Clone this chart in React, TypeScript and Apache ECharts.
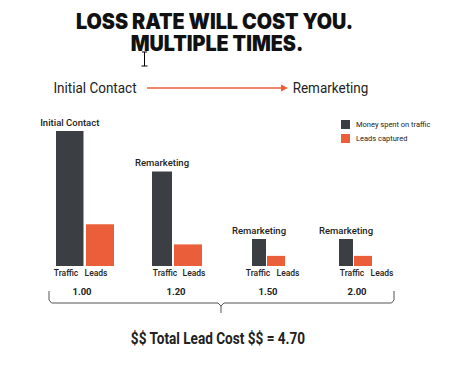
import React, { useEffect, useRef } from "react";
import * as echarts from "echarts";

// ---- data ----
const groupNames = ["Initial Contact", "Remarketing", "Remarketing", "Remarketing"];
const barKinds = ["Traffic", "Leads"];
const trafficSpend = [100, 70, 20, 20];
const leadsCaptured = [31, 16, 7.5, 7.5];
const leadCost = ["1.00", "1.20", "1.50", "2.00"];
const totalCost = "4.70";
const seriesNames = ["Money spent on traffic", "Leads captured"];
const titleLines = ["LOSS RATE WILL COST YOU.", "MULTIPLE TIMES."];
const flowLabels = ["Initial Contact", "Remarketing"];

// ---- layout / style ----
const DARK = "#3b3e43";
const ORANGE = "#ea5f3a";
const TEXT = "#222";
const PLOT_TOP = 131;
const PLOT_H = 135;
// [left, width] of each bar: traffic, leads per group
const BAR_LAYOUT = [
  [56, 27.5], [86, 28],
  [152, 20], [174, 28],
  [252, 14], [267, 18],
  [339, 14], [354, 18],
];
const KIND_LABEL_X = [66, 96, 165, 194, 258, 288, 352, 382];
const COST_X = [82, 176, 268, 357];

export default function App() {
  const ref = useRef<HTMLDivElement>(null);
  useEffect(() => {
    if (!ref.current) return;
    const chart = echarts.init(ref.current, null, { renderer: "svg" });
    const grids: any[] = [];
    const xAxes: any[] = [];
    const yAxes: any[] = [];
    const series: any[] = [];
    groupNames.forEach((g, gi) => {
      [0, 1].forEach((k) => {
        const idx = gi * 2 + k;
        const [left, width] = BAR_LAYOUT[idx];
        grids.push({ left, top: PLOT_TOP, width, height: PLOT_H, containLabel: false });
        xAxes.push({ type: "category", gridIndex: idx, data: [barKinds[k]], show: false });
        yAxes.push({ type: "value", gridIndex: idx, min: 0, max: 100, show: false });
        const value = k === 0 ? trafficSpend[gi] : leadsCaptured[gi];
        series.push({
          type: "bar",
          name: seriesNames[k],
          xAxisIndex: idx,
          yAxisIndex: idx,
          data: [value],
          barWidth: "100%",
          barCategoryGap: "0%",
          itemStyle: { color: k === 0 ? DARK : ORANGE },
          label:
            k === 0
              ? {
                  show: true,
                  position: "top",
                  distance: 4,
                  formatter: g,
                  fontFamily: "Roboto",
                  fontWeight: 500,
                  fontSize: 9.5,
                  color: TEXT,
                }
              : { show: false },
        });
      });
    });

    const graphic: any[] = [];
    // title
    titleLines.forEach((t, i) => {
      graphic.push({
        type: "text",
        x: i === 0 ? 214.5 : 217,
        y: i === 0 ? 21 : 43.5,
        scaleX: 0.94,
        style: {
          text: t,
          fontFamily: "Inter",
          fontWeight: 900,
          fontSize: 21,
          fill: "#111",
          align: "center",
          verticalAlign: "middle",
        },
      });
    });
    // text cursor
    graphic.push(
      { type: "line", shape: { x1: 144.5, y1: 52, x2: 144.5, y2: 66 }, style: { stroke: "#000", lineWidth: 1 } },
      { type: "line", shape: { x1: 142, y1: 52, x2: 147, y2: 52 }, style: { stroke: "#000", lineWidth: 1 } },
      { type: "line", shape: { x1: 141.5, y1: 66, x2: 147.5, y2: 66 }, style: { stroke: "#000", lineWidth: 1 } }
    );
    // flow header
    graphic.push(
      {
        type: "text",
        x: 95,
        y: 88,
        scaleX: 0.9,
        style: { text: flowLabels[0], fontFamily: "Roboto", fontSize: 15, fill: TEXT, align: "center", verticalAlign: "middle" },
      },
      {
        type: "text",
        x: 330.5,
        y: 88,
        scaleX: 0.9,
        style: { text: flowLabels[1], fontFamily: "Roboto", fontSize: 15, fill: TEXT, align: "center", verticalAlign: "middle" },
      },
      { type: "line", shape: { x1: 147, y1: 88, x2: 283, y2: 88 }, style: { stroke: ORANGE, lineWidth: 1.5 } },
      { type: "polygon", shape: { points: [[281, 84.5], [288, 88], [281, 91.5]] }, style: { fill: ORANGE } }
    );
    // kind labels
    groupNames.forEach((_, gi) => {
      [0, 1].forEach((k) => {
        graphic.push({
          type: "text",
          x: KIND_LABEL_X[gi * 2 + k],
          y: 273,
          style: {
            text: barKinds[k],
            fontFamily: "Roboto",
            fontWeight: 500,
            fontSize: 8.5,
            fill: TEXT,
            align: "center",
            verticalAlign: "middle",
          },
        });
      });
      graphic.push({
        type: "text",
        x: COST_X[gi],
        y: 291,
        style: {
          text: leadCost[gi],
          fontFamily: "Roboto",
          fontWeight: 700,
          fontSize: 9.5,
          fill: TEXT,
          align: "center",
          verticalAlign: "middle",
        },
      });
    });
    // brace
    graphic.push(
      {
        type: "polyline",
        shape: {
          points: [
            [49, 291], [49, 300], [51.5, 303], [218, 303], [221, 306], [224, 303], [391.5, 303], [394, 300], [394, 291],
          ],
        },
        style: { stroke: "#555", lineWidth: 1, fill: null },
      },
      { type: "line", shape: { x1: 221, y1: 305, x2: 221, y2: 313 }, style: { stroke: "#555", lineWidth: 1 } }
    );
    // total
    graphic.push({
      type: "text",
      x: 218,
      y: 339,
      scaleX: 0.85,
      style: {
        text: "$$ Total Lead Cost $$ = " + totalCost,
        fontFamily: "Roboto",
        fontWeight: 700,
        fontSize: 16,
        fill: TEXT,
        align: "center",
        verticalAlign: "middle",
      },
    });

    chart.setOption({
      animation: false,
      backgroundColor: "#fff",
      legend: {
        data: seriesNames,
        left: 341,
        top: 120,
        padding: 0,
        orient: "vertical",
        icon: "rect",
        itemWidth: 9,
        itemHeight: 9,
        itemGap: 5,
        selectedMode: false,
        textStyle: { fontFamily: "Roboto", fontSize: 7.5, color: TEXT, padding: [0, 0, 0, 1] },
      },
      grid: grids,
      xAxis: xAxes,
      yAxis: yAxes,
      series,
      graphic,
    });
    return () => chart.dispose();
  }, []);
  return <div ref={ref} style={{ position: "fixed", left: 0, top: 0, width: 463, height: 365 }} />;
}
